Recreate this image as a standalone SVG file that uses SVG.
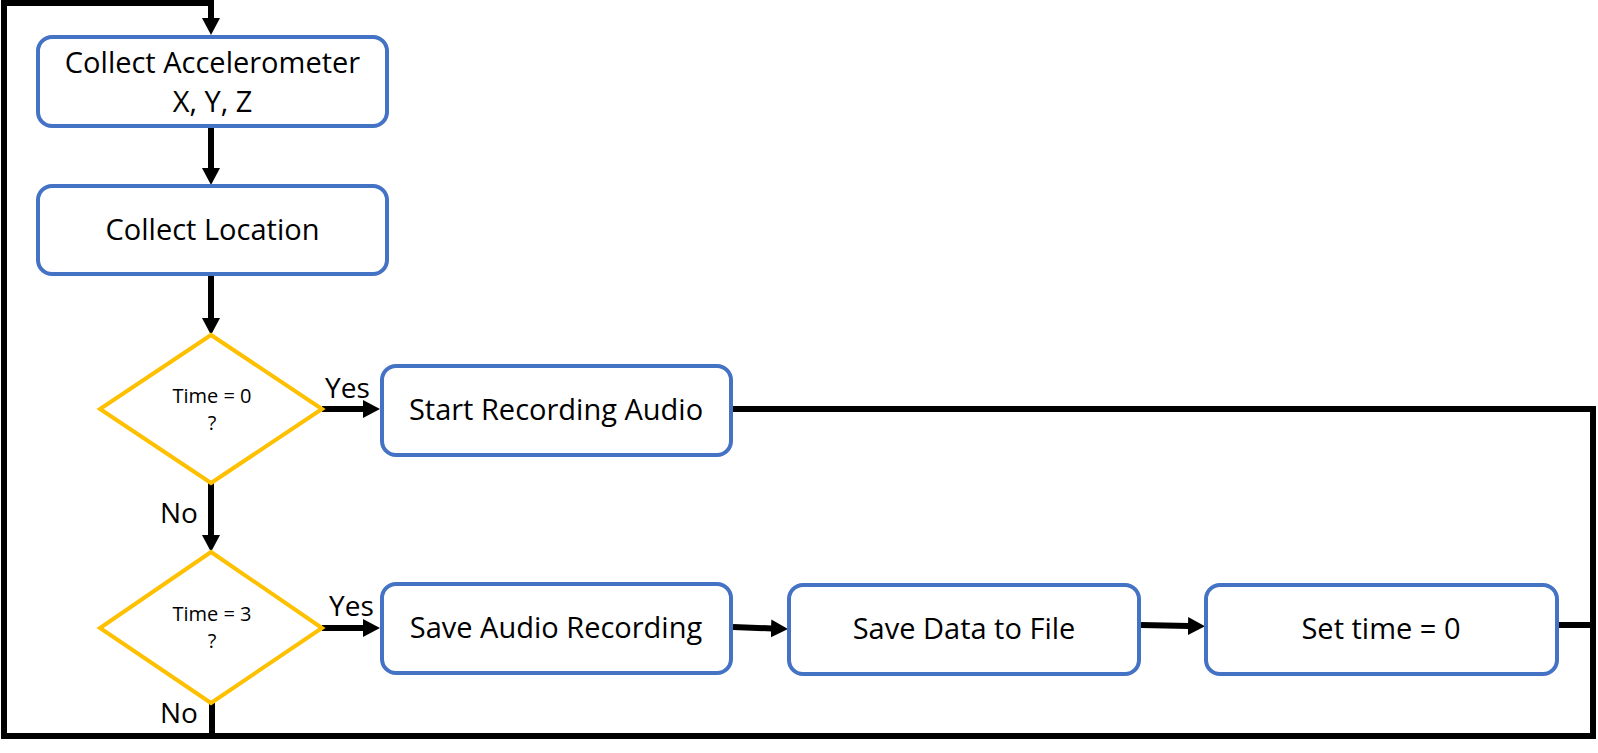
<svg xmlns="http://www.w3.org/2000/svg" width="1598" height="753" viewBox="0 0 1598 753">
<defs>
<style>
.box{fill:#fff;stroke:#4472C4;stroke-width:4}
.dec{fill:#fff;stroke:#FFC000;stroke-width:4}
.t{font-family:"Open Sans","Noto Sans","Liberation Sans",sans-serif;font-size:29px;fill:#000;text-anchor:middle}
.s{font-family:"Open Sans","Noto Sans","Liberation Sans",sans-serif;font-size:20px;fill:#000;text-anchor:middle}
.l{font-family:"Open Sans","Noto Sans","Liberation Sans",sans-serif;font-size:28px;fill:#000}
.c{fill:none;stroke:#000;stroke-width:6}
</style>
<marker id="ah" markerUnits="userSpaceOnUse" markerWidth="18" markerHeight="20" refX="1" refY="9" orient="auto">
<path d="M0,0 L17,9 L0,18 Z" fill="#000"/>
</marker>
</defs>
<rect width="1598" height="753" fill="#fff"/>
<g id="connectors">
<path class="c" d="M731,409 H1593 V736 H4 V3 H211 V19" marker-end="url(#ah)"/>
<path class="c" d="M1557,625 H1593"/>
<path class="c" d="M212,703 V736"/>
<path class="c" d="M211,128 V169" marker-end="url(#ah)"/>
<path class="c" d="M211,275 V319" marker-end="url(#ah)"/>
<path class="c" d="M211,483 V536" marker-end="url(#ah)"/>
<path class="c" d="M322,409 H364" marker-end="url(#ah)"/>
<path class="c" d="M322,628 H364" marker-end="url(#ah)"/>
<path class="c" d="M733,627 L772,628.5" marker-end="url(#ah)"/>
<path class="c" d="M1141,625 L1189,626" marker-end="url(#ah)"/>
</g>
<g id="n1"><rect class="box" x="38" y="37" width="349" height="89" rx="14"/>
<text class="t" x="212.5" y="73">Collect Accelerometer</text>
<text class="t" x="212.5" y="112">X, Y, Z</text></g>
<g id="n2"><rect class="box" x="38" y="186" width="349" height="88" rx="14"/>
<text class="t" x="212.5" y="240">Collect Location</text></g>
<g id="d1"><polygon class="dec" points="211,335 322,409 211,483 100,409"/>
<text class="s" x="212" y="403">Time = 0</text>
<text class="s" x="212" y="430">?</text></g>
<g id="d2"><polygon class="dec" points="211,552 322,628 211,703 100,628"/>
<text class="s" x="212" y="621">Time = 3</text>
<text class="s" x="212" y="648">?</text></g>
<g id="n3"><rect class="box" x="382" y="366" width="349" height="89" rx="14"/>
<text class="t" x="556" y="420">Start Recording Audio</text></g>
<g id="n4"><rect class="box" x="382" y="584" width="349" height="89" rx="14"/>
<text class="t" x="556" y="638">Save Audio Recording</text></g>
<g id="n5"><rect class="box" x="789" y="585" width="350" height="89" rx="14"/>
<text class="t" x="964" y="639">Save Data to File</text></g>
<g id="n6"><rect class="box" x="1206" y="585" width="351" height="89" rx="14"/>
<text class="t" x="1381" y="639">Set time = 0</text></g>
<g id="labels">
<text class="l" x="325" y="398">Yes</text>
<text class="l" x="329" y="616">Yes</text>
<text class="l" x="160" y="523">No</text>
<text class="l" x="160" y="723">No</text>
</g>
</svg>
